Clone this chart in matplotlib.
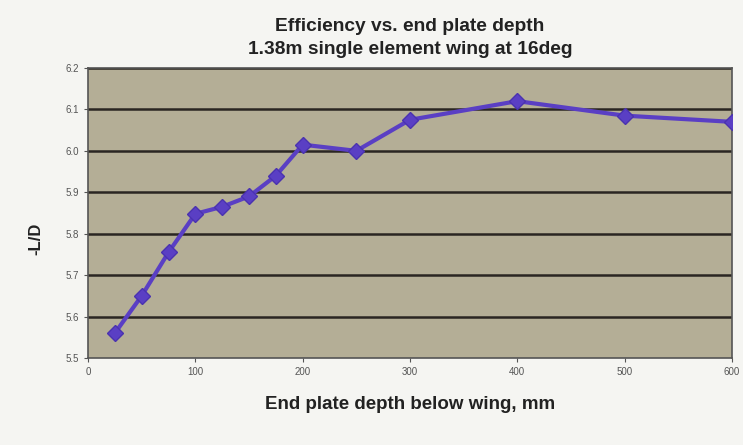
import matplotlib
matplotlib.use('Agg')
import matplotlib.pyplot as plt

depth_mm = [25, 50, 75, 100, 125, 150, 175, 200, 250, 300, 400, 500, 600]
lift_drag = [5.56, 5.65, 5.755, 5.848, 5.865, 5.89, 5.94, 6.015, 6.0, 6.075, 6.12, 6.085, 6.07]
x_ticks = [0, 100, 200, 300, 400, 500, 600]
y_ticks = [5.5, 5.6, 5.7, 5.8, 5.9, 6.0, 6.1, 6.2]

plt.rcParams['font.family'] = ['Liberation Sans', 'DejaVu Sans']

fig = plt.figure(figsize=(7.43, 4.45), dpi=100, facecolor='#f5f5f2')
ax = fig.add_axes([88 / 743, 1 - 358 / 445, (732 - 88) / 743, (358 - 68) / 445])
ax.set_facecolor('#b4ae96')

for y in y_ticks[1:]:
    ax.axhline(y, color='#2a2622', lw=1.8, zorder=1)

ax.plot(depth_mm, lift_drag, color='#5a3fc4', lw=3, marker='D', markersize=8.5,
        markerfacecolor='#5a3fc4', markeredgecolor='#4a32b0', zorder=3)

ax.set_xlim(0, 600)
ax.set_ylim(5.5, 6.2)
ax.set_xticks(x_ticks)
ax.set_yticks(y_ticks)
ax.set_yticklabels([f'{v:.1f}' for v in y_ticks])
ax.tick_params(axis='both', labelsize=7, colors='#555555', length=3)
for s in ax.spines.values():
    s.set_color('#555555')
    s.set_linewidth(1.2)

ax.set_xlabel('End plate depth below wing, mm', fontsize=13.5, fontweight='bold',
              color='#222222', labelpad=14)
ax.set_ylabel('-L/D', fontsize=12, fontweight='bold', color='#222222')
ax.yaxis.set_label_coords(-0.07, 0.41)
fig.text(410 / 743, 1 - 38 / 445,
         'Efficiency vs. end plate depth\n1.38m single element wing at 16deg',
         ha='center', va='center', fontsize=13.8, fontweight='bold', color='#222222',
         linespacing=1.45)

fig.savefig('out.png', dpi=100, facecolor=fig.get_facecolor())
